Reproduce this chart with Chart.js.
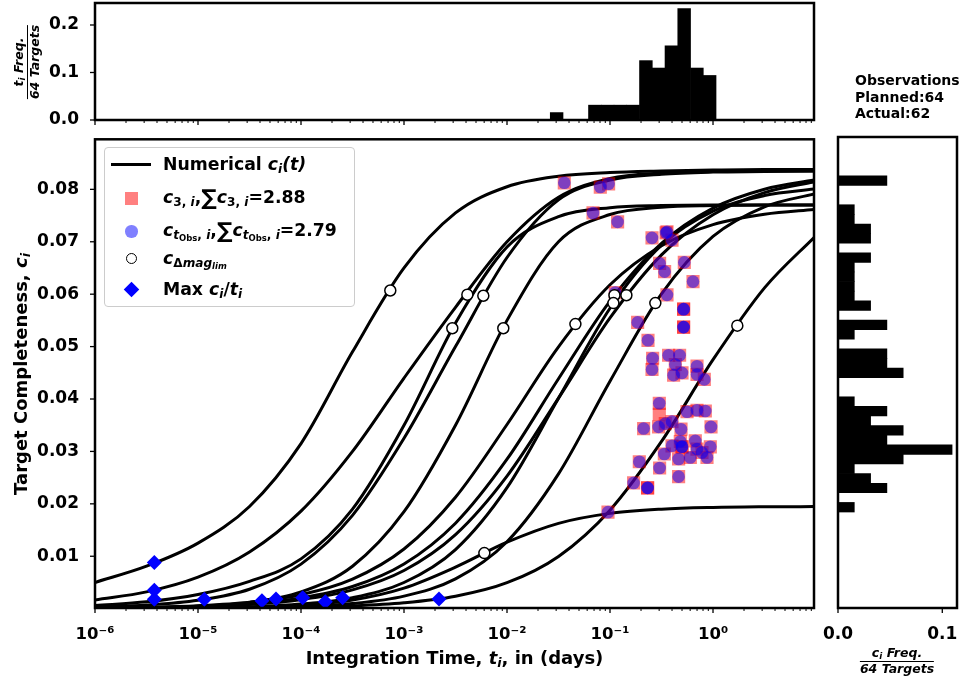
<!DOCTYPE html>
<html>
<head>
<meta charset="utf-8">
<script src="https://cdn.jsdelivr.net/npm/chart.js"></script>
<style>
  body { margin: 0; background: #fff; font-family: 'DejaVu Sans'; font-weight: bold; color: #000; }
  #wrap { position: relative; width: 966px; height: 679px; overflow: hidden; }
  canvas { position: absolute; }
  .txt { position: absolute; white-space: nowrap; }
  sub { font-size: 70%; vertical-align: -0.25em; line-height: 0; }
  .sum { font-size: 125%; font-style: normal; vertical-align: -0.08em; line-height: 0; }
  #legend { position: absolute; left: 104px; top: 147px; width: 249px; height: 158px;
            border: 1px solid #ccc; border-radius: 4px; background: rgba(255,255,255,0.8); }
  #legend .mk { position: absolute; }
  #legend .row { position: absolute; left: 58px; height: 24px; line-height: 24px; font-size: 17.3px; white-space: nowrap; }
  .frac { position: absolute; text-align: center; font-size: 12.5px; font-style: italic; line-height: 14px; white-space: nowrap; }
  .frac .num { border-bottom: 1.3px solid #000; padding: 0 1px 1px; }
</style>
</head>
<body>
<div id="wrap">
  <canvas id="top" width="830" height="135" style="left:0;top:0"></canvas>
  <canvas id="main" width="830" height="549" style="left:0;top:130px"></canvas>
  <canvas id="side" width="166" height="549" style="left:800px;top:130px"></canvas>

  <div id="legend">
    <div class="mk" style="left:6px;top:14.5px;width:40px;height:3px;background:#000"></div>
    <div class="mk" style="left:19.5px;top:43.5px;width:13px;height:13px;background:#ff8080"></div>
    <div class="mk" style="left:20px;top:77px;width:12.5px;height:12.5px;border-radius:50%;background:#8080ff"></div>
    <div class="mk" style="left:20.5px;top:105px;width:9px;height:9px;border-radius:50%;border:1.5px solid #000;background:#fff"></div>
    <div class="mk" style="left:20.5px;top:136px;width:11px;height:11px;background:#0000ff;transform:rotate(45deg)"></div>
    <div class="row" style="top:4px">Numerical <i>c<sub>i</sub>(t)</i></div>
    <div class="row" style="top:37px"><i>c</i><sub>3, <i>i</i></sub>,<span class="sum">∑</span><i>c</i><sub>3, <i>i</i></sub>=2.88</div>
    <div class="row" style="top:70px"><i>c</i><sub><i>t</i><sub>Obs</sub>, <i>i</i></sub>,<span class="sum">∑</span><i>c</i><sub><i>t</i><sub>Obs</sub>, <i>i</i></sub>=2.79</div>
    <div class="row" style="top:98px"><i>c</i><sub>Δ<i>mag</i><sub><i>lim</i></sub></sub></div>
    <div class="row" style="top:129px">Max <i>c<sub>i</sub></i>/<i>t<sub>i</sub></i></div>
  </div>

  <div class="txt" style="left:0;width:909px;text-align:center;top:647px;font-size:18px">Integration Time, <i>t<sub>i</sub></i>, in (days)</div>
  <div class="txt" style="left:20px;top:374px;font-size:18px;transform:translate(-50%,-50%) rotate(-90deg)">Target Completeness, <i>c<sub>i</sub></i></div>
  <div class="txt" style="left:855px;top:72px;font-size:14px;line-height:16.7px">Observations<br>Planned:64<br>Actual:62</div>
  <div class="frac" style="left:27px;top:62px;transform:translate(-50%,-50%) rotate(-90deg)">
    <div class="num"><i>t<sub>i</sub></i> Freq.</div><div>64 Targets</div>
  </div>
  <div class="frac" style="left:897px;top:661px;transform:translate(-50%,-50%)">
    <div class="num"><i>c<sub>i</sub></i> Freq.</div><div>64 Targets</div>
  </div>
</div>

<script>
// axes
const xMin = 1e-6, xMax = 9.56;
const yMin = 0.000127, yMax = 0.08955;
const xTicks = [1e-6, 1e-5, 1e-4, 1e-3, 1e-2, 1e-1, 1];
const xTickLabels = ['10⁻⁶', '10⁻⁵', '10⁻⁴', '10⁻³', '10⁻²', '10⁻¹', '10⁰'];
const yTicks = [0.01, 0.02, 0.03, 0.04, 0.05, 0.06, 0.07, 0.08];
const yTickLabels = ['0.01', '0.02', '0.03', '0.04', '0.05', '0.06', '0.07', '0.08'];
const topYTicks = [0, 0.1, 0.2];
const topYTickLabels = ['0.0', '0.1', '0.2'];
const sideXTicks = [0, 0.1];
const sideXTickLabels = ['0.0', '0.1'];
const nTargets = 64;

// numerical completeness curves c_i(t), sampled at tGrid
const tGrid = [1e-6, 3.162e-6, 1e-5, 3.162e-5, 1e-4, 3.162e-4, 1e-3, 3.162e-3, 0.01, 0.03162, 0.1, 0.3162, 1, 3.162, 10];
const curveA  = [0.00500, 0.00810, 0.01250, 0.01950, 0.03150, 0.04900, 0.06500, 0.07550, 0.08050, 0.08250, 0.08320, 0.08350, 0.08370, 0.08380, 0.08380];
const curveB1 = [0.00060, 0.00130, 0.00270, 0.00520, 0.00950, 0.01900, 0.03500, 0.05450, 0.06900, 0.07480, 0.07650, 0.07690, 0.07700, 0.07700, 0.07700];
const curveB2 = [0.00167, 0.00320, 0.00600, 0.01080, 0.01860, 0.03000, 0.04400, 0.05750, 0.07000, 0.07850, 0.08210, 0.08310, 0.08340, 0.08350, 0.08350];
const curveB3 = [0.00028, 0.00068, 0.00160, 0.00370, 0.00850, 0.01780, 0.03250, 0.05000, 0.06700, 0.07800, 0.08180, 0.08290, 0.08330, 0.08340, 0.08350];
const curveB4 = [0.00006, 0.00016, 0.00044, 0.00120, 0.00320, 0.00810, 0.01850, 0.03500, 0.05500, 0.07000, 0.07520, 0.07660, 0.07690, 0.07700, 0.07700];
const curveC1 = [0.00012, 0.00026, 0.00057, 0.00123, 0.00266, 0.00563, 0.01138, 0.02126, 0.03514, 0.04996, 0.06179, 0.06925, 0.07328, 0.07526, 0.07620];
const curveC2 = [0.00010, 0.00021, 0.00045, 0.00096, 0.00203, 0.00422, 0.00852, 0.01631, 0.02851, 0.04387, 0.05868, 0.06970, 0.07642, 0.08003, 0.08184];
const curveC3 = [0.00002, 0.00006, 0.00014, 0.00035, 0.00087, 0.00210, 0.00499, 0.01128, 0.02309, 0.04014, 0.05731, 0.06936, 0.07583, 0.07882, 0.08010];
const curveC4 = [0.00008, 0.00018, 0.00038, 0.00081, 0.00172, 0.00358, 0.00728, 0.01413, 0.02529, 0.04017, 0.05546, 0.06750, 0.07515, 0.07937, 0.08151];
const curveD  = [0.00001, 0.00003, 0.00006, 0.00016, 0.00040, 0.00098, 0.00239, 0.00569, 0.01278, 0.02572, 0.04340, 0.06005, 0.07101, 0.07666, 0.07920];
const curveE  = [0.00001, 0.00002, 0.00005, 0.00011, 0.00024, 0.00052, 0.00112, 0.00237, 0.00495, 0.00997, 0.01880, 0.03190, 0.04750, 0.06120, 0.07120];
const curveL  = [0.00001, 0.00003, 0.00009, 0.00024, 0.00064, 0.00165, 0.00392, 0.00792, 0.01268, 0.01628, 0.01818, 0.01899, 0.01931, 0.01943, 0.01947];
const curves = [curveA, curveB1, curveB2, curveB3, curveB4, curveC1, curveC2, curveC3, curveC4, curveD, curveE, curveL];

// c at t_Obs (blue) and c_3 (red)
const obsT = [0.0360, 0.0805, 0.0969, 0.0684, 0.1185, 0.2557, 0.3575, 0.3500, 0.3998, 0.3031, 0.3389, 0.5264, 0.6393, 0.1126, 0.3575,
              0.5183, 0.5183, 0.5183, 0.5183, 0.1854, 0.2338, 0.2593, 0.3706, 0.4739, 0.2557, 0.4305, 0.4145, 0.5000, 0.6993, 0.6993,
              0.8233, 0.3010, 0.5594, 0.6993, 0.8418, 0.2120, 0.2963, 0.3442, 0.3998, 0.4890, 0.9563, 0.3998, 0.4814, 0.5000, 0.5000,
              0.6731, 0.6993, 0.9415, 0.3366, 0.4634, 0.6021, 0.8742, 0.7818, 0.1925, 0.3031, 0.4634, 0.1695, 0.2317, 0.2317, 0.0956];
const obsC = [0.08125, 0.08044, 0.08106, 0.0755, 0.07379, 0.07075, 0.07189, 0.07170, 0.07032, 0.06587, 0.0643, 0.06606, 0.0624, 0.06031, 0.05987,
              0.05714, 0.05714, 0.05372, 0.05372, 0.05462, 0.0512, 0.04778, 0.04835, 0.04835, 0.04563, 0.04658, 0.04455, 0.04499, 0.04626, 0.04469,
              0.04374, 0.03918, 0.03758, 0.03785, 0.03772, 0.03436, 0.03468, 0.03531, 0.03569, 0.03424, 0.03468, 0.03107, 0.03189, 0.03088, 0.03088,
              0.03202, 0.03045, 0.03088, 0.0295, 0.02855, 0.02885, 0.02885, 0.0298, 0.02803, 0.02684, 0.02519, 0.02399, 0.02304, 0.02304, 0.01841];
const c3T = obsT.concat([0.3010]);
const c3C = obsC.concat([0.03709]);

// c at delta-mag limit
const magLimT = [7.36e-4, 2.944e-3, 4.121e-3, 5.888e-3, 9.204e-3, 0.04613, 0.1104, 0.1079, 0.1442, 0.2754, 1.722, 6.026e-3];
const magLimC = [0.0607, 0.0535, 0.0599, 0.0597, 0.0535, 0.0543, 0.0598, 0.0583, 0.0598, 0.0583, 0.0540, 0.0106];

// max c/t
const maxT = [3.767e-6, 3.767e-6, 3.767e-6, 1.151e-5, 4.178e-5, 5.715e-5, 1.038e-4, 1.722e-4, 2.535e-4, 2.188e-3];
const maxC = [0.0088, 0.0035, 0.0018, 0.00178, 0.00151, 0.00184, 0.00208, 0.00132, 0.00208, 0.00184];

// histogram of t_i (top)
const tEdges = [0.02630, 0.03498, 0.04651, 0.06185, 0.08226, 0.1094, 0.1455, 0.1935, 0.2573, 0.3421, 0.4550, 0.6050, 0.8046, 1.070];
const tCounts = [1, 0, 0, 2, 2, 2, 2, 8, 7, 10, 15, 7, 6];

// histogram of c_i (right)
const cEdges = [0.01835, 0.02017, 0.02200, 0.02382, 0.02564, 0.02747, 0.02929, 0.03111, 0.03293, 0.03476, 0.03658, 0.03840,
                0.04023, 0.04205, 0.04387, 0.04570, 0.04752, 0.04934, 0.05116, 0.05299, 0.05481, 0.05663, 0.05846, 0.06028,
                0.06210, 0.06393, 0.06575, 0.06757, 0.06940, 0.07122, 0.07304, 0.07487, 0.07669, 0.07851, 0.08034, 0.08216];
const cCounts = [1, 0, 3, 2, 1, 4, 7, 3, 4, 2, 3, 1, 0, 0, 4, 3, 3, 0, 1, 3, 0, 2, 1, 1, 1, 1, 2, 0, 2, 2, 1, 1, 0, 0, 3];

Chart.defaults.font.family = 'DejaVu Sans';
Chart.defaults.font.weight = 'bold';
Chart.defaults.font.size = 17;
Chart.defaults.color = '#000';

const xMinor = [];
xTicks.forEach(d => { for (let k = 2; k <= 9; k++) xMinor.push(k * d); });

// fixed axis box size, no extra label padding pushed into the layout
const fitTo = (w, h) => s => {
  if (w !== null) s.width = w;
  if (h !== null) s.height = h;
  s.paddingTop = s.paddingBottom = s.paddingLeft = s.paddingRight = 0;
};

// spines and tick marks drawn by hand (matplotlib look)
function frame(marks) {
  return {
    id: 'frame',
    afterDraw(chart) {
      const { ctx, chartArea: a } = chart;
      ctx.save();
      ctx.strokeStyle = '#000';
      marks.forEach(([id, values, len, width]) => {
        const s = chart.scales[id];
        ctx.lineWidth = width;
        values.forEach(v => {
          if (v < s.min || v > s.max) return;
          const p = s.getPixelForValue(v);
          ctx.beginPath();
          if (s.isHorizontal()) { ctx.moveTo(p, a.bottom); ctx.lineTo(p, a.bottom + len); }
          else { ctx.moveTo(a.left, p); ctx.lineTo(a.left - len, p); }
          ctx.stroke();
        });
      });
      ctx.lineWidth = 2.5;
      ctx.strokeRect(a.left, a.top, a.right - a.left, a.bottom - a.top);
      ctx.restore();
    }
  };
}

const quiet = { legend: { display: false }, tooltip: { enabled: false } };

// main chart
const lineSets = curves.map((vals, i) => ({
  data: tGrid.map((t, j) => ({ x: t, y: vals[j] })),
  showLine: true, borderColor: '#000', borderWidth: 3, pointRadius: 0,
  cubicInterpolationMode: 'monotone', order: 10 + i
}));

new Chart(document.getElementById('main'), {
  type: 'scatter',
  data: {
    datasets: [
      { data: maxT.map((t, i) => ({ x: t, y: maxC[i] })), pointStyle: 'rectRot', pointRadius: 7.5,
        backgroundColor: '#0000ff', borderWidth: 0, order: 0 },
      { data: magLimT.map((t, i) => ({ x: t, y: magLimC[i] })), pointStyle: 'circle', pointRadius: 5.5,
        backgroundColor: '#fff', borderColor: '#000', borderWidth: 1.5, order: 1 },
      { data: obsT.map((t, i) => ({ x: t, y: obsC[i] })), pointStyle: 'circle', pointRadius: 6.3,
        backgroundColor: 'rgba(0,0,255,0.5)', borderWidth: 0, order: 2 },
      { data: c3T.map((t, i) => ({ x: t, y: c3C[i] })), pointStyle: 'rect', pointRadius: 9.3,
        backgroundColor: 'rgba(255,0,0,0.5)', borderWidth: 0, order: 3 },
      ...lineSets
    ]
  },
  options: {
    responsive: false, animation: false,
    layout: { padding: { top: 7, right: 16, left: 0, bottom: 0 } },
    plugins: quiet,
    scales: {
      x: {
        type: 'logarithmic', min: xMin, max: xMax, bounds: 'data',
        grid: { display: false }, border: { display: false },
        afterBuildTicks: s => { s.ticks = xTicks.map(v => ({ value: v })); },
        afterFit: fitTo(null, 71),
        ticks: { autoSkip: false, maxRotation: 0, padding: 9, font: { size: 16.5 }, callback: (v, i) => xTickLabels[i] }
      },
      y: {
        type: 'linear', min: yMin, max: yMax, bounds: 'data',
        grid: { display: false }, border: { display: false },
        afterBuildTicks: s => { s.ticks = yTicks.map(v => ({ value: v })); },
        afterFit: fitTo(95, null),
        ticks: { autoSkip: false, padding: 8, callback: (v, i) => yTickLabels[i] }
      }
    }
  },
  plugins: [frame([['x', xTicks, 5, 1.3], ['x', xMinor, 3, 1], ['y', yTicks, 5, 1.3]])]
});

// top histogram
const tCenters = tCounts.map((_, i) => Math.sqrt(tEdges[i] * tEdges[i + 1]));
new Chart(document.getElementById('top'), {
  type: 'bar',
  data: { datasets: [{ data: tCenters.map((t, i) => ({ x: t, y: tCounts[i] / nTargets })),
    backgroundColor: '#000', borderWidth: 0, barPercentage: 1, categoryPercentage: 1 }] },
  options: {
    responsive: false, animation: false,
    layout: { padding: { top: 3, right: 16, left: 0, bottom: 0 } },
    plugins: quiet,
    scales: {
      x: {
        type: 'logarithmic', min: xMin, max: xMax, bounds: 'data', offset: false,
        grid: { display: false }, border: { display: false },
        afterBuildTicks: s => { s.ticks = xTicks.map(v => ({ value: v })); },
        ticks: { display: false },
        afterFit: fitTo(null, 15)
      },
      y: {
        type: 'linear', min: 0, max: 0.2463, bounds: 'data',
        grid: { display: false }, border: { display: false },
        afterBuildTicks: s => { s.ticks = topYTicks.map(v => ({ value: v })); },
        afterFit: fitTo(95, null),
        ticks: { autoSkip: false, padding: 8, callback: (v, i) => topYTickLabels[i] }
      }
    }
  },
  plugins: [frame([['x', xTicks, 5, 1.3], ['x', xMinor, 3, 1], ['y', topYTicks, 5, 1.3]])]
});

// right histogram
const cCenters = cCounts.map((_, i) => (cEdges[i] + cEdges[i + 1]) / 2);
new Chart(document.getElementById('side'), {
  type: 'bar',
  data: { datasets: [{ data: cCenters.map((c, i) => ({ x: cCounts[i] / nTargets, y: c })),
    backgroundColor: '#000', borderWidth: 0, barPercentage: 1, categoryPercentage: 1 }] },
  options: {
    indexAxis: 'y', responsive: false, animation: false,
    layout: { padding: { top: 7, right: 9, left: 38, bottom: 0 } },
    plugins: quiet,
    scales: {
      y: { type: 'linear', min: yMin, max: yMax, bounds: 'data', offset: false, display: false },
      x: {
        type: 'linear', min: 0, max: 0.1141, bounds: 'data',
        grid: { display: false }, border: { display: false },
        afterBuildTicks: s => { s.ticks = sideXTicks.map(v => ({ value: v })); },
        afterFit: fitTo(null, 71),
        ticks: { autoSkip: false, maxRotation: 0, padding: 8, callback: (v, i) => sideXTickLabels[i] }
      }
    }
  },
  plugins: [frame([['x', sideXTicks, 5, 1.3]])]
});
</script>
</body>
</html>
